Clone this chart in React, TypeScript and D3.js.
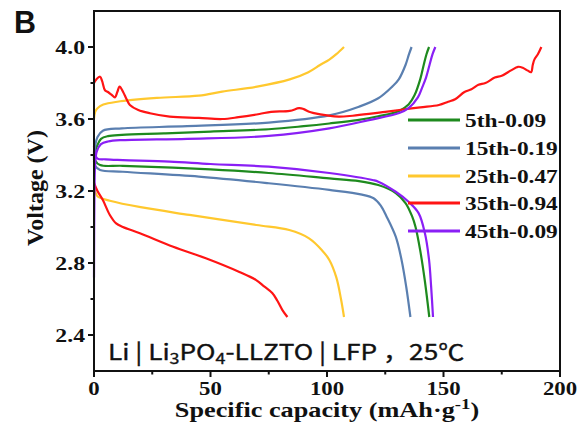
import React from "react";
import * as d3 from "d3";

type P = [number, number];

const seriesNames = ["5th-0.09", "15th-0.19", "25th-0.47", "35th-0.94", "45th-0.09"];
const seriesColors = ["#1e8a1e", "#5a7fb0", "#ffc82e", "#ff1414", "#8a1ff5"];

const charge5: P[] = [[0,3.36],[0.5,3.42],[1.3,3.45],[3,3.49],[6,3.505],[12,3.512],[30,3.52],[50,3.53],[75,3.543],[90,3.56],[101,3.575],[113,3.594],[122,3.615],[131,3.645],[135,3.68],[137.5,3.73],[140,3.82],[141.5,3.9],[142.7,3.96],[143.8,4.0]];
const discharge5: P[] = [[0,3.42],[0.5,3.37],[2.6,3.344],[12.4,3.34],[50,3.32],[75,3.30],[101,3.27],[113.7,3.255],[122,3.233],[129.5,3.189],[133.7,3.133],[136.5,3.06],[138,3.0],[140,2.87],[142,2.7],[143.9,2.5]];

const charge15: P[] = [[0,3.37],[0.5,3.45],[1.5,3.5],[3.8,3.535],[12,3.548],[40,3.56],[75,3.58],[101,3.62],[113.7,3.668],[122,3.715],[128,3.78],[130.8,3.82],[133.7,3.9],[135.2,3.96],[136.3,4.0]];
const discharge15: P[] = [[0,3.40],[0.5,3.34],[2.6,3.317],[12.4,3.307],[45,3.28],[75,3.243],[101,3.206],[115,3.18],[120,3.16],[123,3.12],[125.5,3.06],[129.5,2.946],[132,2.817],[134,2.668],[135.8,2.5]];

const charge25: P[] = [[0,3.6],[0.5,3.64],[1.5,3.66],[4,3.68],[10,3.696],[27,3.717],[45,3.73],[55,3.752],[70,3.78],[84,3.82],[92,3.86],[97,3.9],[101,3.93],[104,3.96],[107.3,4.0]];
const discharge25: P[] = [[0,3.25],[0.7,3.19],[1.7,3.168],[6.8,3.146],[20,3.11],[41,3.067],[69.7,3.011],[83.8,2.983],[92.3,2.937],[97.9,2.87],[101,2.817],[104,2.72],[106,2.6],[107.3,2.5]];

const charge35: P[] = [[0,3.80],[1,3.82],[2.6,3.835],[3.5,3.81],[4.7,3.76],[6,3.75],[7.5,3.735],[9,3.72],[10,3.75],[11,3.78],[12.5,3.75],[14,3.71],[15.4,3.678],[19,3.65],[24,3.632],[32.5,3.613],[45,3.606],[55,3.60],[62,3.61],[71,3.628],[76,3.64],[84,3.645],[88,3.66],[90,3.655],[92.3,3.64],[94.4,3.633],[100,3.62],[105,3.613],[111,3.618],[118,3.628],[125,3.64],[131,3.65],[140,3.665],[148,3.678],[152,3.696],[155,3.71],[159,3.75],[162,3.765],[165,3.79],[168,3.80],[172,3.83],[175,3.84],[179,3.87],[182,3.89],[184,3.885],[186,3.87],[187.6,3.86],[188.3,3.9],[189,3.93],[190.5,3.96],[192,4.0]];
const discharge35: P[] = [[0,3.245],[1.5,3.2],[3.8,3.15],[6.8,3.067],[9.5,3.02],[12.4,3.0],[19.7,2.965],[34,2.89],[48,2.826],[62.4,2.75],[69.6,2.705],[73,2.67],[76.5,2.633],[78.7,2.59],[80.8,2.54],[83,2.5]];

const charge45: P[] = [[0,2.72],[0.2,3.2],[0.5,3.35],[1.2,3.42],[3,3.46],[6,3.475],[12.4,3.483],[40,3.49],[75,3.506],[101,3.548],[118,3.594],[131,3.633],[135,3.66],[139,3.72],[141,3.78],[142.5,3.83],[144,3.9],[145.3,3.96],[146.5,4.0]];
const discharge45: P[] = [[0,3.45],[0.5,3.40],[1.5,3.38],[5,3.376],[12.4,3.372],[32.5,3.363],[50,3.35],[75,3.335],[101,3.30],[120,3.26],[122,3.252],[129.5,3.196],[135,3.14],[139.3,3.077],[142,2.966],[143.8,2.817],[144.7,2.667],[145.5,2.5]];

const curves: P[][][] = [
  [charge5, discharge5],
  [charge15, discharge15],
  [charge25, discharge25],
  [charge35, discharge35],
  [charge45, discharge45],
];

const xTicks = [0, 50, 100, 150, 200];
const xMinor = [25, 75, 125, 175];
const yTicks = [2.4, 2.8, 3.2, 3.6, 4.0];
const yMinor = [2.6, 3.0, 3.4, 3.8];

const W = 582, H = 443;
const L = 94, R = 560, T = 11, B = 371;

const SERIF = "'Liberation Serif', 'Times New Roman', serif";
const SX = 1.2;

function SText(props: { x: number; y: number; sx?: number; anchor?: string; size: number; family?: string; weight?: string | number; children: React.ReactNode; rot?: number; stroke?: number }) {
  const { x, y, sx = SX, anchor = "start", size, family = SERIF, weight = "bold", children, rot = 0, stroke = 0 } = props;
  return (
    <text
      transform={`translate(${x},${y}) rotate(${rot}) scale(${sx},1)`}
      textAnchor={anchor as any}
      fontSize={size}
      fontFamily={family}
      fontWeight={weight as any}
      fill="#111"
      stroke={stroke ? "#111" : "none"}
      strokeWidth={stroke}
    >
      {children}
    </text>
  );
}

export default function App() {
  const x = d3.scaleLinear().domain([0, 200]).range([L, R]);
  const y = d3.scaleLinear().domain([2.2, 4.2]).range([B, T]);
  const line = d3
    .line<P>()
    .x((d) => x(d[0]))
    .y((d) => y(d[1]))
    .curve(d3.curveCatmullRom.alpha(0.5));

  const legendY = [120, 148, 176, 203, 231];

  return (
    <svg width={W} height={H} style={{ position: "absolute", left: 0, top: 0, background: "#fff" }}>
      <rect width={W} height={H} fill="#fff" />
      {curves.map((pair, i) =>
        pair.map((pts, j) => (
          <path key={`${i}-${j}`} d={line(pts) || ""} fill="none" stroke={seriesColors[i]} strokeWidth={2.2} strokeLinejoin="round" />
        ))
      )}
      <rect x={L} y={T} width={R - L} height={B - T} fill="none" stroke="#111" strokeWidth={2} />
      {xTicks.map((t) => (
        <line key={`xt${t}`} x1={x(t)} x2={x(t)} y1={B} y2={B + 6} stroke="#111" strokeWidth={2} />
      ))}
      {xMinor.map((t) => (
        <line key={`xm${t}`} x1={x(t)} x2={x(t)} y1={B} y2={B + 3.5} stroke="#111" strokeWidth={2} />
      ))}
      {xTicks.map((t) => (
        <SText key={`xl${t}`} x={x(t)} y={395} anchor="middle" size={19} sx={1.2}>
          {String(t)}
        </SText>
      ))}
      {yTicks.map((t) => (
        <line key={`yt${t}`} x1={L - 6} x2={L} y1={y(t)} y2={y(t)} stroke="#111" strokeWidth={2} />
      ))}
      {yMinor.map((t) => (
        <line key={`ym${t}`} x1={L - 3.5} x2={L} y1={y(t)} y2={y(t)} stroke="#111" strokeWidth={2} />
      ))}
      {yTicks.map((t) => (
        <SText key={`yl${t}`} x={85} y={y(t) + 6.5} anchor="end" size={19} sx={1.25}>
          {t.toFixed(1)}
        </SText>
      ))}
      <SText x={327} y={417} anchor="middle" size={21} sx={1.25}>
        Specific capacity (mAh·g
        <tspan dy={-8} fontSize={15}>-1</tspan>
        <tspan dy={8}>)</tspan>
      </SText>
      <SText x={43} y={188} anchor="middle" size={24} sx={1} rot={-90}>
        Voltage (V)
      </SText>
      <SText x={14} y={33} size={32} sx={0.95} family="'Liberation Sans', Arial, sans-serif">
        B
      </SText>
      <SText x={108} y={360} size={22} sx={1.19} weight="normal" stroke={0.35} family="'Noto Sans CJK SC', 'Noto Sans', sans-serif">
        Li | Li<tspan dy={4} fontSize={15}>3</tspan>
        <tspan dy={-4}>PO</tspan>
        <tspan dy={4} fontSize={15}>4</tspan>
        <tspan dy={-4}>-LLZTO | LFP ，25℃</tspan>
      </SText>
      {seriesNames.map((n, i) => (
        <g key={n}>
          <line x1={408} x2={460} y1={legendY[i]} y2={legendY[i]} stroke={seriesColors[i]} strokeWidth={3} />
          <SText x={465} y={legendY[i] + 6.5} size={19} sx={1.23}>
            {n}
          </SText>
        </g>
      ))}
    </svg>
  );
}
